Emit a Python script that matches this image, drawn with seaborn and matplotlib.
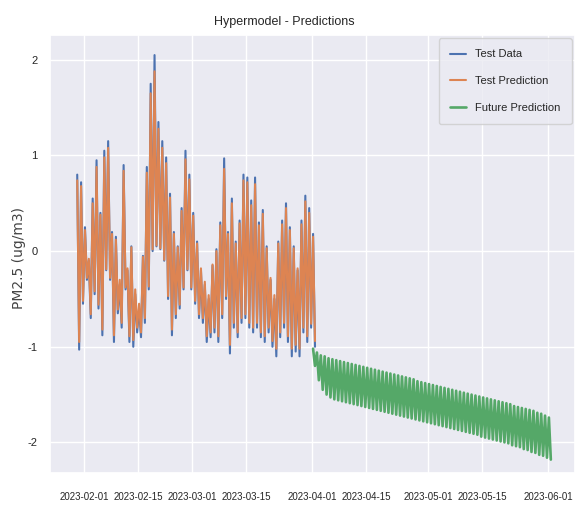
import matplotlib
matplotlib.use("Agg")
import matplotlib.pyplot as plt
import matplotlib.dates as mdates
import numpy as np
import pandas as pd
import seaborn as sns

# ---------------- data ----------------
test_start = "2023-01-30"      # first day of the test period
future_start = "2023-04-01"    # first day of the forecast

# daily peak / trough of the test data (standardised PM2.5)
test_high = [0.80, 0.72, 0.25, -0.10, 0.55, 0.95, 0.40, 1.05, 1.15, 0.20,
             0.15, -0.35, 0.90, -0.20, 0.05, -0.45, -0.60, -0.05, 0.88, 1.75,
             2.05, 1.35, 1.15, 0.98, 0.60, 0.20, 0.05, 0.45, 1.05, 0.80,
             0.40, 0.10, -0.20, -0.35, -0.50, -0.15, 0.02, 0.30, 0.97, 0.20,
             0.55, 0.10, 0.32, 0.80, 0.77, 0.53, 0.77, 0.30, 0.43, 0.05,
             -0.30, -0.50, 0.10, 0.32, 0.50, 0.25, 0.05, -0.20, 0.32, 0.58,
             0.45, 0.18]
test_low = [-1.03, -0.55, -0.30, -0.70, -0.45, -0.60, -0.88, -0.20, -0.30, -0.95,
            -0.65, -0.80, -0.40, -0.95, -1.00, -0.85, -0.90, -0.75, -0.40, 0.00,
            0.05, 0.02, -0.10, -0.50, -0.88, -0.70, -0.60, -0.40, -0.20, -0.40,
            -0.55, -0.70, -0.75, -0.95, -0.90, -0.85, -0.95, -0.70, -0.50, -1.07,
            -0.80, -0.90, -0.75, -0.70, -0.80, -0.85, -0.80, -0.90, -0.95, -0.85,
            -1.00, -1.10, -0.90, -0.80, -0.95, -1.10, -1.05, -1.10, -0.85, -0.95,
            -0.80, -1.00]

# daily peak / trough of the model's test prediction
pred_high = [0.74, 0.68, 0.22, -0.08, 0.50, 0.88, 0.38, 0.98, 1.08, 0.18,
             0.12, -0.30, 0.84, -0.18, 0.04, -0.40, -0.55, -0.06, 0.82, 1.65,
             1.88, 1.28, 1.08, 0.92, 0.56, 0.18, 0.04, 0.42, 0.96, 0.75,
             0.37, 0.08, -0.18, -0.32, -0.46, -0.14, 0.00, 0.27, 0.86, 0.18,
             0.50, 0.08, 0.29, 0.74, 0.72, 0.48, 0.70, 0.27, 0.39, 0.03,
             -0.28, -0.46, 0.08, 0.28, 0.45, 0.22, 0.03, -0.18, 0.28, 0.52,
             0.40, 0.15]
pred_low = [-0.95, -0.52, -0.28, -0.66, -0.42, -0.56, -0.82, -0.19, -0.28, -0.88,
            -0.61, -0.75, -0.38, -0.89, -0.93, -0.80, -0.85, -0.70, -0.37, 0.02,
            0.06, 0.03, -0.09, -0.47, -0.82, -0.66, -0.56, -0.38, -0.19, -0.38,
            -0.52, -0.66, -0.70, -0.89, -0.85, -0.80, -0.89, -0.66, -0.47, -0.98,
            -0.75, -0.85, -0.70, -0.66, -0.75, -0.80, -0.75, -0.85, -0.89, -0.80,
            -0.94, -1.02, -0.85, -0.75, -0.89, -1.02, -0.98, -1.02, -0.80, -0.89,
            -0.76, -0.94]

# daily peak / trough of the future prediction
fut_high = [-1.02, -1.06, -1.09, -1.10, -1.12, -1.13, -1.14, -1.15, -1.16, -1.17,
            -1.18, -1.19, -1.20, -1.21, -1.22, -1.23, -1.24, -1.25, -1.26, -1.27,
            -1.28, -1.29, -1.30, -1.31, -1.32, -1.33, -1.34, -1.36, -1.37, -1.38,
            -1.39, -1.40, -1.41, -1.42, -1.43, -1.44, -1.45, -1.46, -1.47, -1.48,
            -1.49, -1.50, -1.51, -1.52, -1.53, -1.54, -1.55, -1.56, -1.57, -1.58,
            -1.59, -1.60, -1.62, -1.63, -1.64, -1.65, -1.66, -1.67, -1.69, -1.70,
            -1.72, -1.74]
fut_low = [-1.20, -1.35, -1.45, -1.50, -1.53, -1.55, -1.56, -1.57, -1.58, -1.59,
           -1.60, -1.61, -1.62, -1.63, -1.64, -1.65, -1.66, -1.67, -1.68, -1.69,
           -1.70, -1.71, -1.72, -1.73, -1.74, -1.75, -1.76, -1.77, -1.78, -1.79,
           -1.80, -1.81, -1.82, -1.83, -1.84, -1.85, -1.86, -1.87, -1.88, -1.89,
           -1.90, -1.91, -1.92, -1.94, -1.95, -1.96, -1.97, -1.98, -1.99, -2.00,
           -2.01, -2.03, -2.04, -2.05, -2.07, -2.08, -2.10, -2.11, -2.13, -2.14,
           -2.16, -2.18]

tick_dates = ["2023-02-01", "2023-02-15", "2023-03-01", "2023-03-15",
              "2023-04-01", "2023-04-15", "2023-05-01", "2023-05-15", "2023-06-01"]

title = "Hypermodel - Predictions"
ylabel = "PM2.5 (ug/m3)"
labels = ["Test Data", "Test Prediction", "Future Prediction"]


def daily_series(start, highs, lows):
    """Interleave the daily peaks and troughs into one time series."""
    n = len(highs)
    base = pd.Timestamp(start)
    times, vals = [], []
    for i in range(n):
        times.append(base + pd.Timedelta(hours=24 * i + 6))
        vals.append(highs[i])
        times.append(base + pd.Timedelta(hours=24 * i + 18))
        vals.append(lows[i])
    return pd.DataFrame({"time": times, "value": vals})


df_test = daily_series(test_start, test_high, test_low)
df_pred = daily_series(test_start, pred_high, pred_low)
df_fut = daily_series(future_start, fut_high, fut_low)

# ---------------- plotting ----------------
sns.set_theme(style="darkgrid")
plt.rcParams["font.family"] = ["Liberation Sans", "DejaVu Sans"]
plt.rcParams["axes.unicode_minus"] = False
pal = sns.color_palette("deep")

fig = plt.figure(figsize=(5.75, 5.08), dpi=100)
ax = fig.add_axes([50 / 575, 1 - 473 / 508, 525 / 575, 438 / 508])

sns.lineplot(data=df_test, x="time", y="value", ax=ax, color=pal[0],
             label=labels[0], estimator=None, sort=False, linewidth=1.5)
sns.lineplot(data=df_pred, x="time", y="value", ax=ax, color=pal[1],
             label=labels[1], estimator=None, sort=False, linewidth=1.5)
sns.lineplot(data=df_fut, x="time", y="value", ax=ax, color=pal[2],
             label=labels[2], estimator=None, sort=False, linewidth=1.9)

ax.set_xlim(pd.Timestamp("2023-01-23 05:00"), pd.Timestamp("2023-06-08 00:00"))
ax.set_ylim(-2.32, 2.26)
ax.set_yticks([-2, -1, 0, 1, 2])
ax.set_xticks([pd.Timestamp(d) for d in tick_dates])
ax.xaxis.set_major_formatter(mdates.DateFormatter("%Y-%m-%d"))
ax.tick_params(axis="x", labelsize=7, pad=8)
ax.tick_params(axis="y", labelsize=8, pad=3)
ax.set_xlabel("")
ax.set_ylabel(ylabel, fontsize=10, family=["DejaVu Sans"], color="#444444")
ax.yaxis.set_label_coords(-0.045, 0.49)

fig.text(0.495, 0.957, title, ha="center", va="center", fontsize=9)

leg = ax.legend(loc="upper right", fontsize=8, handlelength=1.5,
                labelspacing=1.5, borderpad=1.0, borderaxespad=0.3,
                frameon=True)

fig.savefig("out.png", dpi=100)
